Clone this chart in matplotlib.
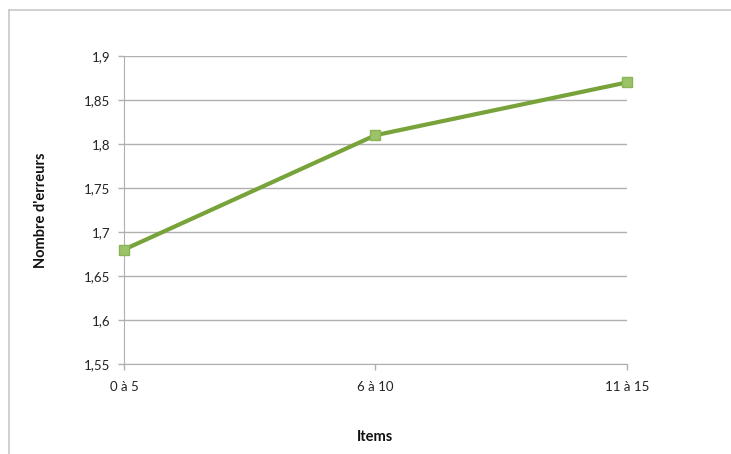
import matplotlib
matplotlib.use("Agg")
import matplotlib.pyplot as plt
from matplotlib.lines import Line2D

categories = ["0 à 5", "6 à 10", "11 à 15"]
values = [1.68, 1.81, 1.87]
yticks = [1.55, 1.6, 1.65, 1.7, 1.75, 1.8, 1.85, 1.9]
ytick_labels = ["1,55", "1,6", "1,65", "1,7", "1,75", "1,8", "1,85", "1,9"]

plt.rcParams['font.family'] = ['Lato', 'DejaVu Sans']

fig = plt.figure(figsize=(7.31, 4.54), dpi=100)
ax = fig.add_axes([124/731, 1-364/454, (627-124)/731, (364-56)/454])

x = list(range(len(categories)))
ax.plot(x, values, color="#77a33a", lw=3, marker="s", markersize=7,
        markerfacecolor="#9cc26a", markeredgecolor="#8ab455", markeredgewidth=1,
        zorder=3, clip_on=False)

ax.set_xlim(0, len(categories) - 1)
ax.set_ylim(1.55, 1.9)
ax.set_yticks(yticks)
ax.set_yticklabels(ytick_labels)
ax.set_xticks(x)
ax.set_xticklabels(categories)
ax.grid(axis="y", color="#b0b0b0", lw=1)
ax.set_axisbelow(True)
for s in ["top", "right"]:
    ax.spines[s].set_visible(False)
ax.spines["left"].set_color("#b0b0b0")
ax.spines["bottom"].set_color("#b0b0b0")
ax.tick_params(axis="both", colors="#b0b0b0", labelcolor="#222222", labelsize=9.5, length=4, width=1)
ax.tick_params(axis="x", pad=8)
ax.tick_params(axis="y", pad=6)

ax.set_ylabel("Nombre d'erreurs", fontsize=10.5, fontweight="bold", labelpad=26, color="#111111")
ax.set_xlabel("Items", fontsize=10.5, fontweight="bold", labelpad=27, color="#111111")

fig.add_artist(Line2D([9/731, 1], [1-10/454, 1-10/454], color="#c8c8c8", lw=1.2, transform=fig.transFigure))
fig.add_artist(Line2D([9/731, 9/731], [0, 1-10/454], color="#c8c8c8", lw=1.2, transform=fig.transFigure))

fig.savefig("out.png", dpi=100)
